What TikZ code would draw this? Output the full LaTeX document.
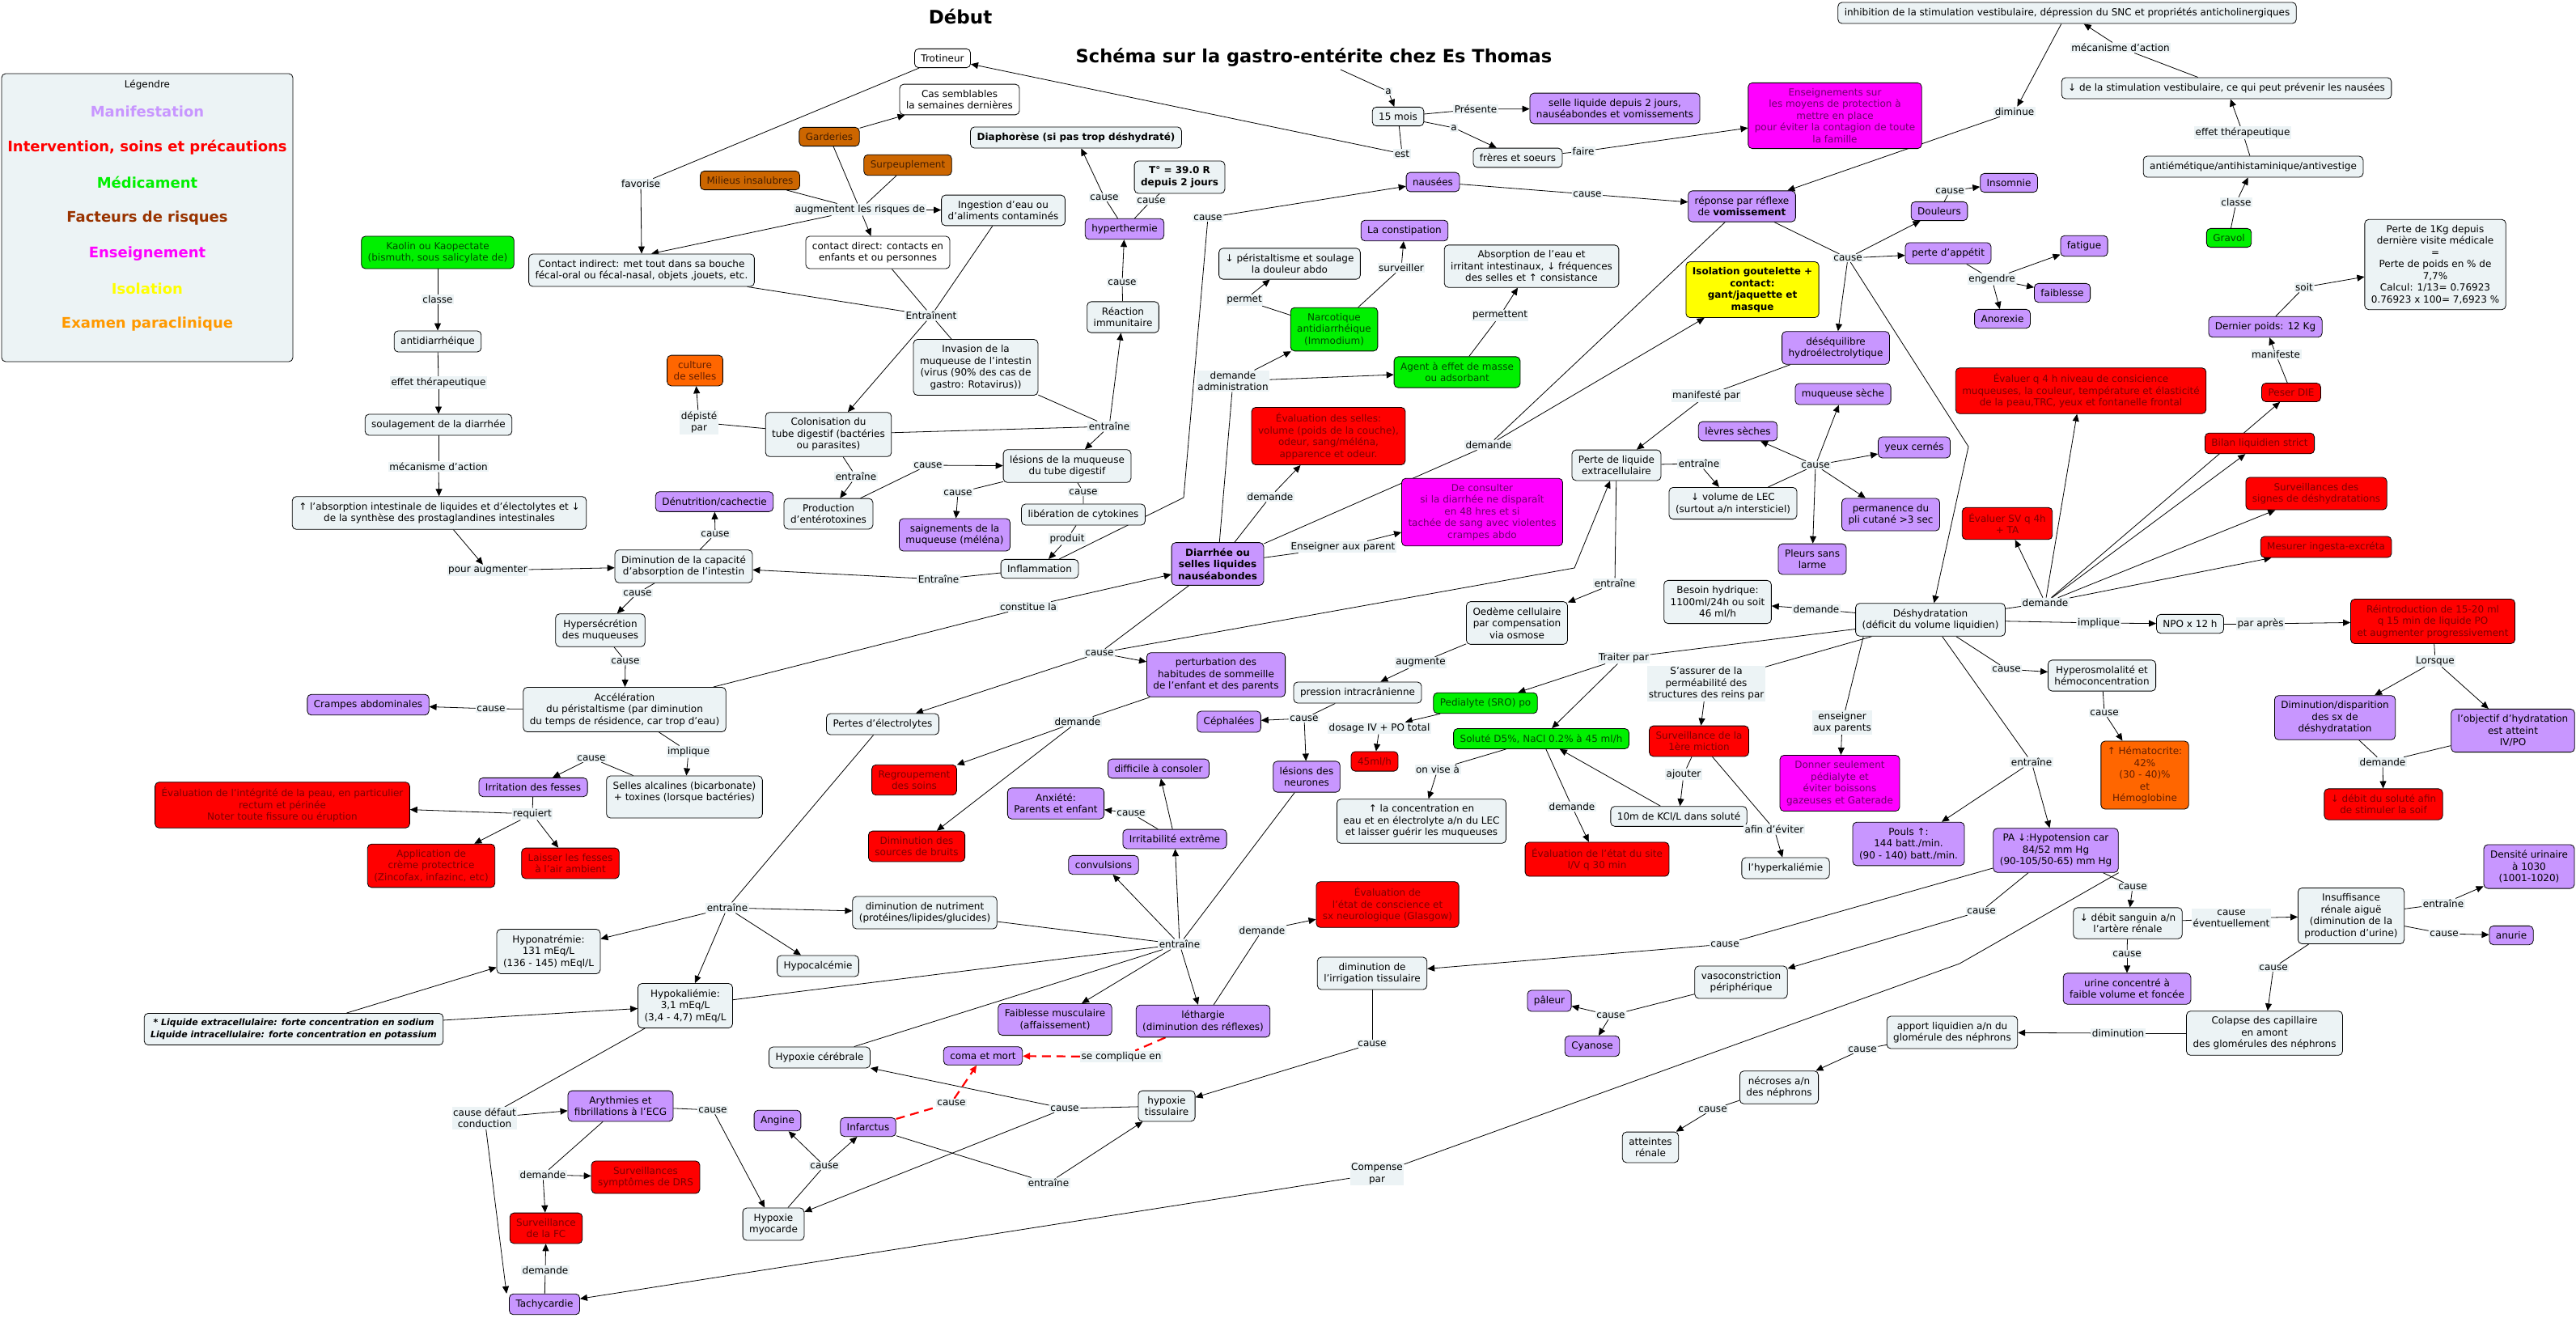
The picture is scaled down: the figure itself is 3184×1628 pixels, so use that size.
\documentclass[tikz,border=0pt]{standalone}
\usepackage{fontspec}
\setmainfont{DejaVu Sans}
\usetikzlibrary{arrows.meta}

\definecolor{cfond}{RGB}{236,243,245}
\definecolor{cman}{RGB}{200,150,255}
\definecolor{cinter}{RGB}{255,0,0}
\definecolor{tinter}{RGB}{125,0,0}
\definecolor{cmed}{RGB}{0,240,0}
\definecolor{tmed}{RGB}{0,70,0}
\definecolor{crisk}{RGB}{204,102,0}
\definecolor{trisk}{RGB}{70,30,0}
\definecolor{cens}{RGB}{255,0,255}
\definecolor{tens}{RGB}{110,0,110}
\definecolor{ciso}{RGB}{255,255,0}
\definecolor{cexam}{RGB}{255,102,0}
\definecolor{texam}{RGB}{100,30,0}
\definecolor{lrisk}{RGB}{153,51,0}
\definecolor{lexam}{RGB}{255,153,0}

\pgfdeclarelayer{fond}
\pgfdeclarelayer{liens}
\pgfsetlayers{fond,liens,main}

\begin{document}
\begin{tikzpicture}[
  x=1pt, y=-1pt, line cap=round, line join=round,
  >={Triangle[length=9pt,width=8pt]},
  box/.style={draw, line width=0.8pt, rounded corners=5pt, fill=cfond, align=center,
              inner xsep=8pt, inner ysep=7pt, font=\fontsize{12}{14.5}\selectfont},
  blanc/.style={box, fill=white},
  man/.style={box, fill=cman},
  inter/.style={box, fill=cinter, text=tinter},
  med/.style={box, fill=cmed, text=tmed},
  risk/.style={box, fill=crisk, text=trisk},
  ens/.style={box, fill=cens, text=tens},
  iso/.style={box, fill=ciso},
  exam/.style={box, fill=cexam, text=texam},
  gras/.style={font=\fontsize{12}{14.5}\selectfont\bfseries},
  lbl/.style={fill=cfond, inner sep=1.5pt, align=center, font=\fontsize{12}{14.5}\selectfont},
  grave/.style={draw=red, line width=2.2pt, dash pattern=on 11pt off 7pt}
]
  \begin{pgfonlayer}{fond}
    \fill[white] (0,0) rectangle (3184,1628);
  \end{pgfonlayer}
  \useasboundingbox (0,0) rectangle (3184,1628);

  % ── Légende ───────────────────────────────────────────────────────────────
  \node[box, minimum width=360pt, minimum height=356pt] (legende) at (182,269) {};
  \node[font=\fontsize{12}{14}\selectfont] at (182,105) {Légendre};
  \foreach \txt/\col [count=\i from 0] in {Manifestation/cman,
      {Intervention, soins et précautions}/cinter, Médicament/cmed,
      Facteurs de risques/lrisk, Enseignement/cens, Isolation/ciso,
      Examen paraclinique/lexam}
    \node[text=\col, font=\fontsize{18}{20}\selectfont\bfseries] at (182,138+43.8*\i) {\txt};

  % ── Titres ────────────────────────────────────────────────────────────────
  \node[font=\fontsize{23}{26}\selectfont\bfseries] (debut) at (1187,20) {Début};
  \node[font=\fontsize{22.5}{26}\selectfont\bfseries] (titre) at (1624,71)
      {Schéma sur la gastro-entérite chez Es Thomas};

  % ── Concepts ──────────────────────────────────────────────────────────────
  \node[blanc] (trot)   at (1165,72)  {Trotineur};
  \node[blanc] (cas)    at (1186,123) {Cas semblables\\la semaines dernières};
  \node[risk]  (gard)   at (1025,169) {Garderies};
  \node[risk]  (surp)   at (1122,204) {Surpeuplement};
  \node[risk]  (milieu) at (927,223)  {Milieus insalubres};
  \node[box]   (ingest) at (1240,260) {Ingestion d'eau ou\\d'aliments contaminés};
  \node[blanc] (cdir)   at (1085,312) {contact direct: contacts en\\enfants et ou personnes};
  \node[box]   (cind)   at (793,334)
      {Contact indirect: met tout dans sa bouche\\fécal-oral ou fécal-nasal, objets ,jouets, etc.};
  \node[med]   (kaolin) at (541,312)  {Kaolin ou Kaopectate\\(bismuth, sous salicylate de)};
  \node[box]   (antid)  at (541,422)  {antidiarrhéique};
  \node[box]   (soul)   at (542,525)  {soulagement de la diarrhée};
  \node[box]   (absorb) at (543,634)
      {↑ l'absorption intestinale de liquides et d'électolytes et ↓\\de la synthèse des prostaglandines intestinales};
  \node[box]   (dimabs) at (845,700)  {Diminution de la capacité\\d'absorption de l'intestin};
  \node[box]   (hypers) at (742,779)  {Hypersécrétion\\des muqueuses};
  \node[box]   (accel)  at (772,877)
      {Accélération\\du péristaltisme (par diminution\\du temps de résidence, car trop d'eau)};
  \node[man]   (crampes) at (455,871) {Crampes abdominales};
  \node[man]   (irrit)  at (659,973)  {Irritation des fesses};
  \node[box]   (selles) at (846,985)  {Selles alcalines (bicarbonate)\\+ toxines (lorsque bactéries)\\~};
  \node[inter] (evalpeau) at (349,995)
      {Évaluation de l'intégrité de la peau, en particulier\\rectum et périnée\\Noter toute fissure ou éruption};
  \node[inter] (creme)  at (533,1070) {Application de\\crème protectrice\\(Zincofax, infazinc, etc)};
  \node[inter] (laisser) at (705,1067) {Laisser les fesses\\à l'air ambient};
  \node[man]   (denut)  at (883,620)  {Dénutrition/cachectie};
  \node[box]   (colon)  at (1024,537) {Colonisation du\\tube digestif (bactéries\\ou parasites)};
  \node[exam]  (culture) at (859,458) {culture\\de selles};
  \node[box]   (prod)   at (1024,635) {Production\\d'entérotoxines};
  \node[box]   (lesmuq) at (1319,576) {lésions de la muqueuse\\du tube digestif};
  \node[man]   (saign)  at (1180,661) {saignements de la\\muqueuse (méléna)};
  \node[box]   (cyto)   at (1339,636) {libération de cytokines};
  \node[box]   (inflam) at (1285,703) {Inflammation};
  \node[box]   (invasion) at (1206,454)
      {Invasion de la\\muqueuse de l'intestin\\(virus (90\% des cas de\\gastro: Rotavirus))};
  \node[box]   (reac)   at (1388,392) {Réaction\\immunitaire};
  \node[man]   (hyper)  at (1390,283) {hyperthermie};
  \node[box, gras] (diaph) at (1330,170) {Diaphorèse (si pas trop déshydraté)};
  \node[box, gras] (temp)  at (1458,219) {T° = 39.0 R\\depuis 2 jours};
  \node[man, gras] (diarr) at (1505,697) {Diarrhée ou\\selles liquides\\nauséabondes};
  \node[box]   (perist) at (1594,326) {↓ péristaltisme et soulage\\la douleur abdo};
  \node[med]   (narco)  at (1649,407) {Narcotique\\antidiarrhéique\\(Immodium)};
  \node[man]   (constip) at (1736,285) {La constipation};
  \node[box]   (absorpt) at (1893,329)
      {Absorption de l'eau et\\irritant intestinaux, ↓ fréquences\\des selles et ↑ consistance};
  \node[med]   (agent)  at (1801,460) {Agent à effet de masse\\ou adsorbant};
  \node[inter] (evalselles) at (1642,539)
      {Évaluation des selles:\\volume (poids de la couche),\\odeur, sang/méléna,\\apparence et odeur.};
  \node[box]   (mois)   at (1728,144) {15 mois};
  \node[man]   (selleliq) at (1996,134) {selle liquide depuis 2 jours,\\nauséabondes et vomissements};
  \node[box]   (freres) at (1876,195) {frères et soeurs};
  \node[ens]   (enseign) at (2268,143)
      {Enseignements sur\\les moyens de protection à\\mettre en place\\pour éviter la contagion de toute\\la famille};
  \node[man]   (nausees) at (1771,225) {nausées};
  \node[man]   (vomis)  at (2153,255) {réponse par réflexe\\de \textbf{vomissement}};
  \node[iso, gras] (isol) at (2166,358) {Isolation goutelette +\\contact:\\gant/jaquette et\\masque};
  \node[man]   (douleurs) at (2397,261) {Douleurs};
  \node[man]   (insomnie) at (2483,226) {Insomnie};
  \node[man]   (appetit) at (2408,313) {perte d'appétit};
  \node[man]   (fatigue) at (2576,304) {fatigue};
  \node[man]   (faibl)  at (2549,362) {faiblesse};
  \node[man]   (anorex) at (2475,394) {Anorexie};
  \node[man]   (desequ) at (2269,430) {déséquilibre\\hydroélectrolytique};
  \node[man]   (muqseche) at (2278,487) {muqueuse sèche};
  \node[man]   (levres) at (2148,533) {lèvres sèches};
  \node[man]   (yeux)   at (2366,553) {yeux cernés};
  \node[box]   (inhib)  at (2555,16)
      {inhibition de la stimulation vestibulaire, dépression du SNC et propriétés anticholinergiques};
  \node[box]   (stimvest) at (2752,109) {↓ de la stimulation vestibulaire, ce qui peut prévenir les nausées};
  \node[box]   (antiem) at (2785,206) {antiémétique/antihistaminique/antivestige};
  \node[med]   (gravol) at (2755,294) {Gravol};
  \node[box]   (perte1kg) at (3010,327)
      {Perte de 1Kg depuis\\dernière visite médicale\\=\\Perte de poids en \% de\\7,7\%\\Calcul: 1/13= 0.76923\\0.76923 x 100= 7,6923 \%};
  \node[man]   (poids)  at (2800,404) {Dernier poids: 12 Kg};
  \node[inter] (peser)  at (2832,485) {Peser DIE};
  \node[inter] (evalq4) at (2572,483)
      {Évaluer q 4 h niveau de consicience\\muqueuses, la couleur, température et élasticité\\de la peau,TRC, yeux et fontanelle frontal};
  \node[inter] (bilan)  at (2793,548) {Bilan liquidien strict};
  \node[ens]   (consult) at (1832,633)
      {De consulter\\si la diarrhée ne disparaît\\en 48 hres et si\\tachée de sang avec violentes\\crampes abdo};
  \node[box]   (perteliq) at (1998,575) {Perte de liquide\\extracellulaire};
  \node[box]   (vollec) at (2142,622) {↓ volume de LEC\\(surtout a/n intersticiel)};
  \node[man]   (pli)    at (2337,636) {permanence du\\pli cutané >3 sec};
  \node[man]   (pleurs) at (2240,691) {Pleurs sans\\larme};
  \node[box]   (besoin) at (2123,744) {Besoin hydrique:\\1100ml/24h ou soit\\46 ml/h};
  \node[box]   (deshyd) at (2386,766) {Déshydratation\\(déficit du volume liquidien)};
  \node[box]   (oedeme) at (1875,770) {Oedème cellulaire\\par compensation\\via osmose};
  \node[box]   (pic)    at (1678,856) {pression intracrânienne};
  \node[med]   (pedia)  at (1836,869) {Pedialyte (SRO) po};
  \node[inter] (ml45)   at (1699,941) {45ml/h};
  \node[med]   (solute) at (1905,913) {Soluté D5\%, NaCl 0.2\% à 45 ml/h};
  \node[inter] (miction) at (2100,916) {Surveillance de la\\1ère miction};
  \node[box]   (concen) at (1757,1015)
      {↑ la concentration en\\eau et en électrolyte a/n du LEC\\et laisser guérir les muqueuses};
  \node[inter] (evalsite) at (1974,1062) {Évaluation de l'état du site\\I/V q 30 min};
  \node[box]   (kcl)    at (2075,1009) {10m de KCl/L dans soluté};
  \node[box]   (hyperk) at (2207,1073) {l'hyperkaliémie};
  \node[ens]   (donner) at (2274,968) {Donner seulement\\pédialyte et\\éviter boissons\\gazeuses et Gaterade};
  \node[man]   (pouls)  at (2359,1043) {Pouls ↑:\\144 batt./min.\\(90 - 140) batt./min.};
  \node[inter] (evalsv) at (2481,647) {Évaluer SV q 4h\\+ TA};
  \node[inter] (survsignes) at (2863,610) {Surveillances des\\signes de déshydratations};
  \node[inter] (mesurer) at (2875,676) {Mesurer ingesta-excréta};
  \node[box]   (npo)    at (2707,771) {NPO x 12 h};
  \node[inter] (reintro) at (3007,768)
      {Réintroduction de 15-20 ml\\q 15 min de liquide PO\\et augmenter progressivement};
  \node[box]   (hyperos) at (2598,835) {Hyperosmolalité et\\hémoconcentration};
  \node[man]   (dimdisp) at (2886,887) {Diminution/disparition\\des sx de\\déshydratation};
  \node[man]   (objectif) at (3106,903) {l'objectif d'hydratation\\est atteint\\IV/PO};
  \node[exam]  (hemato) at (2651,958) {↑ Hématocrite:\\42\%\\(30 - 40)\%\\et\\Hémoglobine};
  \node[inter] (debitsol) at (2946,994) {↓ débit du soluté afin\\de stimuler la soif};
  \node[man]   (pa)     at (2541,1051) {PA ↓:Hypotension car\\84/52 mm Hg\\(90-105/50-65) mm Hg};
  \node[man]   (densite) at (3126,1071) {Densité urinaire\\à 1030\\(1001-1020)};
  \node[box]   (pertelec) at (1091,895) {Pertes d'électrolytes};
  \node[man]   (perturb) at (1503,834)
      {perturbation des\\habitudes de sommeille\\de l'enfant et des parents};
  \node[man]   (cephal) at (1519,892) {Céphalées};
  \node[inter] (regroup) at (1130,964) {Regroupement\\des soins};
  \node[man]   (difficile) at (1432,950) {difficile à consoler};
  \node[man]   (anxiete) at (1305,993) {Anxiété:\\Parents et enfant};
  \node[man]   (irritab) at (1452,1037) {Irritabilité extrême};
  \node[inter] (bruits) at (1133,1046) {Diminution des\\sources de bruits};
  \node[man]   (convuls) at (1364,1069) {convulsions};
  \node[man]   (lesneur) at (1615,960) {lésions des\\neurones};
  \node[box]   (hypona) at (678,1176) {Hyponatrémie:\\131 mEq/L\\(136 - 145) mEql/L};
  \node[box]   (hypoka) at (847,1243) {Hypokaliémie:\\3,1 mEq/L\\(3,4 - 4,7) mEq/L};
  \node[box, font=\fontsize{11}{14.5}\selectfont\bfseries\itshape] (liqext) at (363,1272)
      {* Liquide extracellulaire: forte concentration en sodium\\Liquide intracellulaire: forte concentration en potassium};
  \node[man]   (aryth)  at (767,1367) {Arythmies et\\fibrillations à l'ECG};
  \node[inter] (drs)    at (798,1455) {Surveillances\\symptômes de DRS};
  \node[inter] (fc)     at (675,1518) {Surveillance\\de la FC};
  \node[man]   (tachy)  at (673,1612) {Tachycardie};
  \node[box]   (nutri)  at (1143,1128) {diminution de nutriment\\(protéines/lipides/glucides)};
  \node[box]   (hypoca) at (1011,1194) {Hypocalcémie};
  \node[man]   (faiblmusc) at (1304,1260) {Faiblesse musculaire\\(affaissement)};
  \node[man]   (letharg) at (1487,1262) {léthargie\\(diminution des réflexes)};
  \node[box]   (hypcer) at (1013,1307) {Hypoxie cérébrale};
  \node[man]   (coma)   at (1215,1305) {coma et mort};
  \node[box]   (hyptiss) at (1442,1367) {hypoxie\\tissulaire};
  \node[man]   (angine) at (961,1385) {Angine};
  \node[man]   (infarct) at (1073,1393) {Infarctus};
  \node[box]   (hypmyo) at (956,1513) {Hypoxie\\myocarde};
  \node[inter] (evalconsc) at (1715,1118)
      {Évaluation de\\l'état de conscience et\\sx neurologique (Glasgow)};
  \node[box]   (irrigation) at (1696,1203) {diminution de\\l'irrigation tissulaire};
  \node[box]   (vasoc)  at (2152,1214) {vasoconstriction\\périphérique};
  \node[man]   (paleur) at (1915,1237) {pâleur};
  \node[man]   (cyanose) at (1968,1293) {Cyanose};
  \node[box]   (apport) at (2413,1276) {apport liquidien a/n du\\glomérule des néphrons};
  \node[box]   (necrose) at (2199,1344) {nécroses a/n\\des néphrons};
  \node[box]   (atteinte) at (2040,1418) {atteintes\\rénale};
  \node[box]   (debitsang) at (2630,1141) {↓ débit sanguin a/n\\l'artère rénale};
  \node[box]   (insuff) at (2906,1132)
      {Insuffisance\\rénale aiguë\\(diminution de la\\production d'urine)};
  \node[man]   (anurie) at (3104,1156) {anurie};
  \node[man]   (urine)  at (2629,1222) {urine concentré à\\faible volume et foncée};
  \node[box]   (colapse) at (2799,1277) {Colapse des capillaire\\en amont\\des glomérules des néphrons};

  % ── Mots de liaison ───────────────────────────────────────────────────────
  \node[lbl] (lfav)     at (792,227)   {favorise};
  \node[lbl] (lest)     at (1733,190)  {est};
  \node[lbl] (laug)     at (1063,259)  {augmentent les risques de};
  \node[lbl] (lentr1)   at (1151,390)  {Entraînent};
  \node[lbl] (ldep)     at (864,522)   {dépisté\\par};
  \node[lbl] (lentr2)   at (1371,527)  {entraîne};
  \node[lbl] (lcause1)  at (1387,349)  {cause};
  \node[lbl] (lcause2)  at (1365,244)  {cause};
  \node[lbl] (lcause3)  at (1423,248)  {cause};
  \node[lbl] (lcause4)  at (1493,269)  {cause};
  \node[lbl] (lclasse1) at (541,370)   {classe};
  \node[lbl] (leffet1)  at (542,473)   {effet thérapeutique};
  \node[lbl] (lmeca1)   at (542,577)   {mécanisme d'action};
  \node[lbl] (lpour)    at (603,705)   {pour augmenter};
  \node[lbl] (lentr3)   at (1058,589)  {entraîne};
  \node[lbl] (lcause5)  at (1147,575)  {cause};
  \node[lbl] (lcause6)  at (1184,609)  {cause};
  \node[lbl] (lcause7)  at (1339,608)  {cause};
  \node[lbl] (lprod)    at (1319,666)  {produit};
  \node[lbl] (lentr4)   at (1160,716)  {Entraîne};
  \node[lbl] (lcause8)  at (884,660)   {cause};
  \node[lbl] (lcause9)  at (788,733)   {cause};
  \node[lbl] (lcause10) at (773,817)   {cause};
  \node[lbl] (lcause11) at (607,876)   {cause};
  \node[lbl] (limpl1)   at (851,929)   {implique};
  \node[lbl] (lcause12) at (731,937)   {cause};
  \node[lbl] (lreq)     at (658,1006)  {requiert};
  \node[lbl] (lconst)   at (1271,750)  {constitue la};
  \node[lbl] (lpermet)  at (1538,371)  {permet};
  \node[lbl] (ldemadm)  at (1524,471)  {demande\\administration};
  \node[lbl] (lsurv)    at (1732,331)  {surveiller};
  \node[lbl] (lpermettent) at (1854,390) {permettent};
  \node[lbl] (ldem1)    at (1570,614)  {demande};
  \node[lbl] (la1)      at (1716,113)  {a};
  \node[lbl] (lpres)    at (1824,135)  {Présente};
  \node[lbl] (la2)      at (1797,158)  {a};
  \node[lbl] (lfaire)   at (1957,187)  {faire};
  \node[lbl] (lcause13) at (1962,240)  {cause};
  \node[lbl] (ldiminue) at (2490,138)  {diminue};
  \node[lbl] (lmeca2)   at (2621,59)   {mécanisme d'action};
  \node[lbl] (leffet2)  at (2772,164)  {effet thérapeutique};
  \node[lbl] (lclasse2) at (2764,250)  {classe};
  \node[lbl] (lcause14) at (2284,319)  {cause};
  \node[lbl] (lcause15) at (2410,236)  {cause};
  \node[lbl] (lengendre) at (2462,345) {engendre};
  \node[lbl] (lsoit)    at (2848,355)  {soit};
  \node[lbl] (lmanif)   at (2813,438)  {manifeste};
  \node[lbl] (lmanifpar) at (2109,489) {manifesté par};
  \node[lbl] (ldem2)    at (1840,550)  {demande};
  \node[lbl] (lens1)    at (1660,676)  {Enseigner aux parent};
  \node[lbl] (lcause16) at (1359,807)  {cause};
  \node[lbl] (lentr5)   at (2100,573)  {entraîne};
  \node[lbl] (lcause17) at (2244,575)  {cause};
  \node[lbl] (lentr6)   at (1996,721)  {entraîne};
  \node[lbl] (ldem3)    at (2245,753)  {demande};
  \node[lbl] (laugm)    at (1756,819)  {augmente};
  \node[lbl] (ltraiter) at (2007,813)  {Traiter par};
  \node[lbl] (lassurer) at (2109,845)  {S'assurer de la\\perméabilité des\\structures des reins par};
  \node[lbl] (lcause18) at (1612,888)  {cause};
  \node[lbl] (ldosage)  at (1705,900)  {dosage IV + PO total};
  \node[lbl] (lvise)    at (1777,951)  {on vise à};
  \node[lbl] (ldem4)    at (1943,997)  {demande};
  \node[lbl] (lajouter) at (2081,957)  {ajouter};
  \node[lbl] (lafin)    at (2193,1025) {afin d'éviter};
  \node[lbl] (lenseign) at (2277,893)  {enseigner\\aux parents};
  \node[lbl] (ldem5)    at (2528,745)  {demande};
  \node[lbl] (limpl2)   at (2594,770)  {implique};
  \node[lbl] (lapres)   at (2794,771)  {par après};
  \node[lbl] (lcause19) at (2480,827)  {cause};
  \node[lbl] (lcause20) at (2601,881)  {cause};
  \node[lbl] (llorsque) at (3010,817)  {Lorsque};
  \node[lbl] (ldem6)    at (2945,942)  {demande};
  \node[lbl] (lentr7)   at (2511,942)  {entraîne};
  \node[lbl] (ldem7)    at (1332,892)  {demande};
  \node[lbl] (lcause21) at (1398,1005) {cause};
  \node[lbl] (lentr8)   at (899,1122)  {entraîne};
  \node[lbl] (lentr9)   at (1458,1167) {entraîne};
  \node[lbl] (ldem8)    at (1560,1150) {demande};
  \node[lbl] (lcomplique) at (1386,1306) {se complique en};
  \node[lbl] (lcause22) at (1316,1370) {cause};
  \node[lbl] (lcause23) at (1176,1363) {cause};
  \node[lbl] (lcause24) at (881,1372)  {cause};
  \node[lbl] (lcause25) at (1019,1441) {cause};
  \node[lbl] (lentr10)  at (1296,1462) {entraîne};
  \node[lbl] (lcausedef) at (599,1382) {cause défaut\\conduction};
  \node[lbl] (ldem9)    at (671,1452)  {demande};
  \node[lbl] (ldem10)   at (674,1570)  {demande};
  \node[lbl] (lcompense) at (1702,1451) {Compense\\par};
  \node[lbl] (lcause26) at (2132,1167) {cause};
  \node[lbl] (lcause27) at (2449,1126) {cause};
  \node[lbl] (lcause28) at (2636,1096) {cause};
  \node[lbl] (lcause29) at (1696,1290) {cause};
  \node[lbl] (lcause30) at (1991,1255) {cause};
  \node[lbl] (lcause31) at (2629,1179) {cause};
  \node[lbl] (lcauseev) at (2758,1135) {cause\\éventuellement};
  \node[lbl] (lentr11)  at (3020,1117) {entraîne};
  \node[lbl] (lcause32) at (3021,1154) {cause};
  \node[lbl] (lcause33) at (2810,1196) {cause};
  \node[lbl] (ldiminution) at (2618,1277) {diminution};
  \node[lbl] (lcause34) at (2302,1297) {cause};
  \node[lbl] (lcause35) at (2117,1371) {cause};

  % coudes
  \coordinate (wInfl) at (1463,615);
  \coordinate (wPerte) at (1946,702);
  \coordinate (wDesh) at (2433,552);
  \coordinate (wComp) at (2422,1191);

  % ── Liens ─────────────────────────────────────────────────────────────────
  \begin{pgfonlayer}{liens}
  \begin{scope}[line width=0.8pt]
    % risques et transmission
    \draw (trot) -- (lfav);
    \draw[->] (lfav) -- (cind.north);
    \draw (mois) -- (lest);
    \draw[->] (lest) -- (trot);
    \draw[->] (gard) -- (cas);
    \foreach \s in {gard,surp,milieu} \draw (\s) -- (laug);
    \draw[->] (laug) -- ([xshift=12pt]cind.north);
    \draw[->] (laug) -- (cdir);
    \draw[->] (laug) -- (ingest);
    \foreach \s in {cind,cdir,ingest} \draw (\s) -- (lentr1);
    \draw[->] (lentr1) -- (colon);
    \draw (lentr1) -- (invasion);
    \draw (colon) -- (ldep);
    \draw[->] (ldep) -- (culture);
    \draw (colon) -- (lentr2);
    \draw (invasion) -- (lentr2);
    \draw[->] (lentr2) -- (reac);
    \draw[->] (lentr2) -- (lesmuq);
    \draw (reac) -- (lcause1);
    \draw[->] (lcause1) -- (hyper);
    \draw (hyper) -- (lcause2);
    \draw[->] (lcause2) -- (diaph);
    \draw (hyper) -- (lcause3) -- (temp);
    \draw (inflam) -- (wInfl) -- (lcause4);
    \draw[->] (lcause4) -- (nausees);

    % Kaolin
    \draw (kaolin) -- (lclasse1);
    \draw[->] (lclasse1) -- (antid);
    \draw (antid) -- (leffet1);
    \draw[->] (leffet1) -- (soul);
    \draw (soul) -- (lmeca1);
    \draw[->] (lmeca1) -- (absorb);
    \draw[->] (absorb) -- (lpour);
    \draw[->] (lpour) -- (dimabs);

    % atteinte intestinale
    \draw (colon) -- (lentr3);
    \draw[->] (lentr3) -- (prod);
    \draw (prod) -- (lcause5);
    \draw[->] (lcause5) -- (lesmuq);
    \draw (lesmuq) -- (lcause6);
    \draw[->] (lcause6) -- (saign);
    \draw (lesmuq) -- (lcause7) -- (cyto);
    \draw (cyto) -- (lprod);
    \draw[->] (lprod) -- (inflam);
    \draw (inflam) -- (lentr4);
    \draw[->] (lentr4) -- (dimabs);
    \draw (dimabs) -- (lcause8);
    \draw[->] (lcause8) -- (denut);
    \draw (dimabs) -- (lcause9);
    \draw[->] (lcause9) -- (hypers);
    \draw (hypers) -- (lcause10);
    \draw[->] (lcause10) -- (accel);
    \draw (accel) -- (lcause11);
    \draw[->] (lcause11) -- (crampes);
    \draw (accel) -- (limpl1);
    \draw[->] (limpl1) -- (selles);
    \draw (selles) -- (lcause12);
    \draw[->] (lcause12) -- (irrit);
    \draw (irrit) -- (lreq);
    \foreach \t in {evalpeau,creme,laisser} \draw[->] (lreq) -- (\t);
    \draw (accel) -- (lconst);
    \draw[->] (lconst) -- (diarr);

    % diarrhée
    \draw (diarr) -- (ldemadm);
    \draw[->] (ldemadm) -- (narco);
    \draw[->] (ldemadm) -- (agent);
    \draw (narco) -- (lpermet);
    \draw[->] (lpermet) -- (perist);
    \draw (narco) -- (lsurv);
    \draw[->] (lsurv) -- (constip);
    \draw (agent) -- (lpermettent);
    \draw[->] (lpermettent) -- (absorpt);
    \draw (diarr) -- (ldem1);
    \draw[->] (ldem1) -- (evalselles);
    \draw (diarr) -- (ldem2);
    \draw (vomis) -- (ldem2);
    \draw[->] (ldem2) -- (isol);
    \draw (diarr) -- (lens1);
    \draw[->] (lens1) -- (consult);
    \draw (diarr) -- (lcause16);
    \draw[->] (lcause16) -- (perturb);
    \draw[->] (lcause16) -- (pertelec);
    \draw[->] (lcause16) -- (wPerte) -- (perteliq);

    % Thomas
    \draw (titre) -- (la1);
    \draw[->] (la1) -- (mois);
    \draw (mois) -- (lpres);
    \draw[->] (lpres) -- (selleliq);
    \draw (mois) -- (la2);
    \draw[->] (la2) -- (freres);
    \draw (freres) -- (lfaire);
    \draw[->] (lfaire) -- (enseign);

    % vomissement
    \draw (nausees) -- (lcause13);
    \draw[->] (lcause13) -- (vomis);
    \draw[->] (inhib) -- (ldiminue);
    \draw[->] (ldiminue) -- (vomis);
    \draw (stimvest) -- (lmeca2);
    \draw[->] (lmeca2) -- (inhib);
    \draw (antiem) -- (leffet2);
    \draw[->] (leffet2) -- (stimvest);
    \draw (gravol) -- (lclasse2);
    \draw[->] (lclasse2) -- (antiem);
    \draw (vomis) -- (lcause14);
    \foreach \t in {douleurs,appetit,desequ} \draw[->] (lcause14) -- (\t);
    \draw[->] (lcause14) -- (wDesh) -- (deshyd);
    \draw (douleurs) -- (lcause15);
    \draw[->] (lcause15) -- (insomnie);
    \draw (appetit) -- (lengendre);
    \foreach \t in {fatigue,faibl,anorex} \draw[->] (lengendre) -- (\t);
    \draw (poids) -- (lsoit);
    \draw[->] (lsoit) -- (perte1kg);
    \draw (peser) -- (lmanif);
    \draw[->] (lmanif) -- (poids);
    \draw (desequ) -- (lmanifpar);
    \draw[->] (lmanifpar) -- (perteliq);

    % liquide extracellulaire
    \draw (perteliq) -- (lentr5);
    \draw[->] (lentr5) -- (vollec);
    \draw (vollec) -- (lcause17);
    \foreach \t in {levres,muqseche,yeux,pli,pleurs} \draw[->] (lcause17) -- (\t);
    \draw (perteliq) -- (lentr6);
    \draw[->] (lentr6) -- (oedeme);
    \draw (oedeme) -- (laugm);
    \draw[->] (laugm) -- (pic);
    \draw (pic) -- (lcause18);
    \draw[->] (lcause18) -- (cephal);
    \draw[->] (lcause18) -- (lesneur);

    % déshydratation
    \draw (deshyd) -- (ldem3);
    \draw[->] (ldem3) -- (besoin);
    \draw (deshyd) -- (ltraiter);
    \draw[->] (ltraiter) -- (pedia);
    \draw[->] (ltraiter) -- (solute);
    \draw[->] (pedia) -- (ldosage);
    \draw[->] (ldosage) -- (ml45);
    \draw (solute) -- (lvise);
    \draw[->] (lvise) -- (concen);
    \draw (solute) -- (ldem4);
    \draw[->] (ldem4) -- (evalsite);
    \draw (deshyd) -- (lassurer);
    \draw[->] (lassurer) -- (miction);
    \draw (miction) -- (lajouter);
    \draw[->] (lajouter) -- (kcl);
    \draw[->] (kcl) -- (solute);
    \draw (miction) -- (lafin);
    \draw[->] (lafin) -- (hyperk);
    \draw ([xshift=10pt]deshyd.south west) -- (lenseign);
    \draw[->] (lenseign) -- (donner);
    \draw (deshyd) -- (ldem5);
    \foreach \t in {evalsv,evalq4,peser,bilan,survsignes,mesurer} \draw[->] (ldem5) -- (\t);
    \draw (deshyd) -- (limpl2);
    \draw[->] (limpl2) -- (npo);
    \draw (npo) -- (lapres);
    \draw[->] (lapres) -- (reintro);
    \draw (reintro) -- (llorsque);
    \draw[->] (llorsque) -- (dimdisp);
    \draw[->] (llorsque) -- (objectif);
    \draw (dimdisp) -- (ldem6);
    \draw (objectif) -- (ldem6);
    \draw[->] (ldem6) -- (debitsol);
    \draw (deshyd) -- (lcause19);
    \draw[->] (lcause19) -- (hyperos);
    \draw (hyperos) -- (lcause20);
    \draw[->] (lcause20) -- (hemato);
    \draw (deshyd) -- (lentr7);
    \draw[->] (lentr7) -- (pouls);
    \draw[->] (lentr7) -- (pa);

    % comportement
    \draw (perturb) -- (ldem7);
    \draw[->] (ldem7) -- (regroup);
    \draw[->] (ldem7) -- (bruits);
    \draw[->] (irritab) -- (difficile);
    \draw (irritab) -- (lcause21);
    \draw[->] (lcause21) -- (anxiete);

    % électrolytes
    \draw (pertelec) -- (lentr8);
    \foreach \t in {hypona,nutri,hypoca,hypoka} \draw[->] (lentr8) -- (\t);
    \draw[->] (liqext) -- (hypona);
    \draw[->] (liqext) -- (hypoka);
    \foreach \s in {hypoka,nutri,hypcer,lesneur} \draw (\s) -- (lentr9);
    \foreach \t in {convuls,irritab,faiblmusc,letharg} \draw[->] (lentr9) -- (\t);
    \draw (letharg) -- (ldem8);
    \draw[->] (ldem8) -- (evalconsc);
    \draw[grave] (letharg) -- (lcomplique);
    \draw[grave, ->] (lcomplique) -- (coma);
    \draw[grave] (infarct) -- (lcause23);
    \draw[grave, ->] (lcause23) -- (coma);
    \draw (hyptiss) -- (lcause22);
    \draw[->] (lcause22) -- (hypcer);
    \draw[->] (lcause22) -- (hypmyo);
    \draw (aryth) -- (lcause24);
    \draw[->] (lcause24) -- (hypmyo);
    \draw (hypmyo) -- (lcause25);
    \draw[->] (lcause25) -- (angine);
    \draw[->] (lcause25) -- (infarct);
    \draw (infarct) -- (lentr10);
    \draw[->] (lentr10) -- (hyptiss);
    \draw (hypoka) -- (lcausedef);
    \draw[->] (lcausedef) -- (aryth);
    \draw[->] (lcausedef) -- ([xshift=-3pt]tachy.north west);
    \draw (aryth) -- (ldem9);
    \draw[->] (ldem9) -- (drs);
    \draw[->] (ldem9) -- (fc);
    \draw (tachy) -- (ldem10);
    \draw[->] (ldem10) -- (fc);

    % hypotension et reins
    \draw (pa.south east) -- (wComp) -- (lcompense);
    \draw[->] (lcompense) -- (tachy);
    \draw (pa) -- (lcause26);
    \draw[->] (lcause26) -- (irrigation);
    \draw (pa) -- (lcause27);
    \draw[->] (lcause27) -- (vasoc);
    \draw (pa) -- (lcause28);
    \draw[->] (lcause28) -- (debitsang);
    \draw (irrigation) -- (lcause29);
    \draw[->] (lcause29) -- (hyptiss);
    \draw (vasoc) -- (lcause30);
    \draw[->] (lcause30) -- (paleur);
    \draw[->] (lcause30) -- (cyanose);
    \draw (debitsang) -- (lcause31);
    \draw[->] (lcause31) -- (urine);
    \draw (debitsang) -- (lcauseev);
    \draw[->] (lcauseev) -- (insuff);
    \draw (insuff) -- (lentr11);
    \draw[->] (lentr11) -- (densite);
    \draw (insuff) -- (lcause32);
    \draw[->] (lcause32) -- (anurie);
    \draw (insuff) -- (lcause33);
    \draw[->] (lcause33) -- (colapse);
    \draw (colapse) -- (ldiminution);
    \draw[->] (ldiminution) -- (apport);
    \draw (apport) -- (lcause34);
    \draw[->] (lcause34) -- (necrose);
    \draw (necrose) -- (lcause35);
    \draw[->] (lcause35) -- (atteinte);
  \end{scope}
  \end{pgfonlayer}

\end{tikzpicture}
\end{document}
